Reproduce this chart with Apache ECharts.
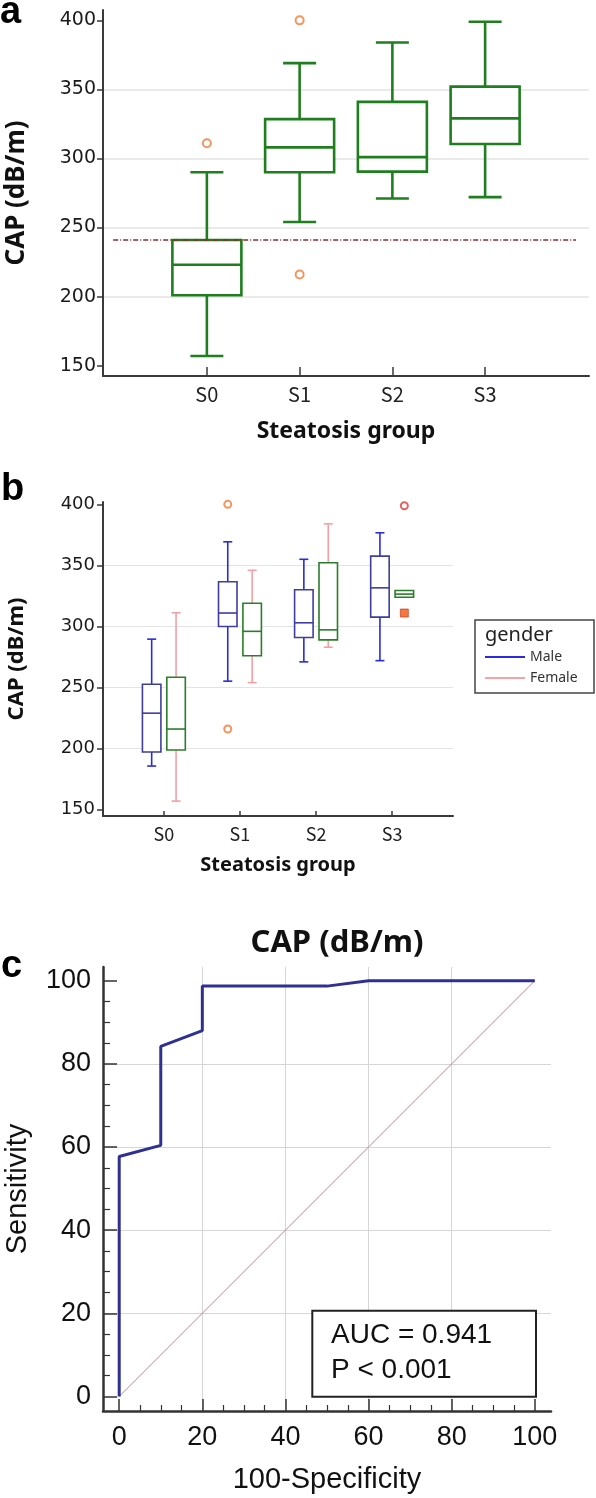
<!DOCTYPE html>
<html><head><meta charset="utf-8">
<script src="https://cdn.jsdelivr.net/npm/echarts@6/dist/echarts.min.js"></script>
<style>html,body{margin:0;padding:0;background:#fff}#c{width:596px;height:1498px}</style>
</head><body><div id="c"></div>
<script>
// ---------- DATA ----------
const groups = ['S0', 'S1', 'S2', 'S3'];
const capTicks = [150, 200, 250, 300, 350, 400];
const rocTicks = [0, 20, 40, 60, 80, 100];
// boxes: [min, Q1, median, Q3, max]
const capBoxA = [
  [157, 201, 223, 241, 290],
  [254, 290, 308, 328.5, 369],
  [271, 290.5, 301, 341, 384],
  [272, 310.5, 329, 352, 399]
];
const outliersA = [[0, 311], [1, 400], [1, 216]];
const cutoffValue = 241;
const cutoffSpan = [-1.01, 3.98];
const maleBoxB = [
  [185.7, 197.2, 229, 252.7, 289.6],
  [255.2, 300, 311, 336.6, 369.3],
  [271, 291, 303, 330, 355],
  [272, 307.6, 331.6, 357.6, 376.7]
];
const femaleBoxB = [
  [157, 198.9, 216, 258.4, 311.2],
  [254, 276, 296, 319, 346],
  [283, 289, 297.2, 352.1, 384],
  [323.9, 323.9, 326.5, 329.4, 329.4]
];
const maleOutliersB = [[1, 400], [1, 216]];
const femaleOutliersB = [[3, 398.8]];
const femaleFarOutB = [[3, 311]];
const rocFpr = [0, 0, 10, 10, 20, 20, 50, 60, 100];
const rocTpr = [0, 57.7, 60.4, 84.2, 88.0, 98.7, 98.7, 100, 100];
const diagFpr = [0, 100];
const diagTpr = [0, 100];

// ---------- HELPERS ----------
function boxRenderer(st) {
  return function (params, api) {
    const x = api.value(0);
    const v = [api.value(1), api.value(2), api.value(3), api.value(4), api.value(5)];
    const pts = v.map(val => api.coord([x, val]));
    const cx = pts[0][0] + st.offset;
    const yMin = pts[0][1], yQ1 = pts[1][1], yMed = pts[2][1], yQ3 = pts[3][1], yMax = pts[4][1];
    const hb = st.boxW / 2, hc = st.capW / 2;
    const wl = { stroke: st.whisker, lineWidth: st.lw, fill: null };
    const bl = { stroke: st.box, lineWidth: st.lw, fill: null };
    const ch = [];
    if (v[4] > v[3]) {
      ch.push({ type: 'line', shape: { x1: cx, y1: yQ3, x2: cx, y2: yMax }, style: wl });
      ch.push({ type: 'line', shape: { x1: cx - hc, y1: yMax, x2: cx + hc, y2: yMax }, style: wl });
    }
    if (v[0] < v[1]) {
      ch.push({ type: 'line', shape: { x1: cx, y1: yQ1, x2: cx, y2: yMin }, style: wl });
      ch.push({ type: 'line', shape: { x1: cx - hc, y1: yMin, x2: cx + hc, y2: yMin }, style: wl });
    }
    ch.push({ type: 'rect', shape: { x: cx - hb, y: yQ3, width: st.boxW, height: yQ1 - yQ3 },
      style: { stroke: st.box, lineWidth: st.lw, fill: '#fff' } });
    ch.push({ type: 'line', shape: { x1: cx - hb, y1: yMed, x2: cx + hb, y2: yMed }, style: bl });
    return { type: 'group', children: ch };
  };
}
const withIndex = arr => arr.map((b, i) => [i].concat(b));
const zip = (a, b) => a.map((v, i) => [v, b[i]]);

const axisDark = '#3a3a3a';
const numFont = 'DejaVu Sans';
const catFont = 'Noto Sans CJK KR';
const titleFont = 'Noto Sans';

const chart = echarts.init(document.getElementById('c'), null, { renderer: 'canvas' });
const option = {
  animation: false,
  backgroundColor: '#fff',
  grid: [
    { left: 103, top: 10, width: 486, height: 366, outerBoundsMode: 'none' },
    { left: 103, top: 502, width: 350, height: 314, outerBoundsMode: 'none' },
    { left: 103, top: 967, width: 448, height: 444, outerBoundsMode: 'none' }
  ],
  xAxis: [
    {
      type: 'value', gridIndex: 0, min: -1.12, max: 4.12,
      axisLine: { show: true, onZero: false, lineStyle: { color: axisDark, width: 2 } },
      axisTick: { show: true, inside: true, length: 9, customValues: [0, 1, 2, 3], lineStyle: { color: axisDark, width: 1.5 } },
      axisLabel: { customValues: [0, 1, 2, 3], formatter: v => groups[Math.round(v)], fontSize: 20, fontFamily: catFont, color: '#222', margin: 8 },
      splitLine: { show: false },
      name: 'Steatosis group', nameLocation: 'middle', nameGap: 44,
      nameTextStyle: { fontWeight: 'bold', fontSize: 23, fontFamily: titleFont, color: '#111' }
    },
    {
      type: 'value', gridIndex: 1, min: -0.8, max: 3.8,
      axisLine: { show: true, onZero: false, lineStyle: { color: axisDark, width: 2 } },
      axisTick: { show: true, inside: true, length: 5, customValues: [0, 1, 2, 3], lineStyle: { color: axisDark, width: 1.5 } },
      axisLabel: { customValues: [0, 1, 2, 3], formatter: v => groups[Math.round(v)], fontSize: 18, fontFamily: catFont, color: '#222', margin: 9 },
      splitLine: { show: false },
      name: 'Steatosis group', nameLocation: 'middle', nameGap: 39,
      nameTextStyle: { fontWeight: 'bold', fontSize: 20, fontFamily: titleFont, color: '#111' }
    },
    {
      type: 'value', gridIndex: 2, min: -3.9, max: 103.9,
      axisLine: { show: true, onZero: false, lineStyle: { color: '#333', width: 2.5 } },
      axisTick: { show: true, inside: true, length: 12, customValues: rocTicks, lineStyle: { color: '#333', width: 1.5 } },
      minorTick: { show: true, splitNumber: 4, length: 6, lineStyle: { color: '#333', width: 1.2 } },
      axisLabel: { customValues: rocTicks, fontSize: 27, fontFamily: 'Liberation Sans', color: '#111', margin: 13 },
      splitLine: { show: true, showMinLine: false, showMaxLine: false, lineStyle: { color: '#d6d6d6', width: 1 } },
      name: '100-Specificity', nameLocation: 'middle', nameGap: 54,
      nameTextStyle: { fontSize: 29, fontFamily: 'Liberation Sans', color: '#111' }
    }
  ],
  yAxis: [
    {
      type: 'value', gridIndex: 0, min: 142.5, max: 407.5,
      axisLine: { show: true, onZero: false, lineStyle: { color: axisDark, width: 2 } },
      axisTick: { show: true, length: 6, customValues: capTicks, lineStyle: { color: axisDark, width: 1.5 } },
      axisLabel: { customValues: capTicks, fontSize: 19, fontFamily: numFont, color: '#1a1a1a', margin: 7 },
      splitLine: { show: true, showMinLine: false, showMaxLine: false, lineStyle: { color: '#e3e3e3', width: 1.5 } },
      name: 'CAP (dB/m)', nameLocation: 'middle', nameGap: 73, nameRotate: 90,
      nameTextStyle: { fontWeight: 'bold', fontSize: 26, fontFamily: titleFont, color: '#111' }
    },
    {
      type: 'value', gridIndex: 1, min: 144.8, max: 401.9,
      axisLine: { show: true, onZero: false, lineStyle: { color: axisDark, width: 2 } },
      axisTick: { show: true, length: 6, customValues: capTicks, lineStyle: { color: axisDark, width: 1.5 } },
      axisLabel: { customValues: capTicks, fontSize: 18, fontFamily: numFont, color: '#1a1a1a', margin: 8 },
      splitLine: { show: true, showMinLine: false, showMaxLine: false, lineStyle: { color: '#e3e3e8', width: 1.2 } },
      name: 'CAP (dB/m)', nameLocation: 'middle', nameGap: 75, nameRotate: 90,
      nameTextStyle: { fontWeight: 'bold', fontSize: 22, fontFamily: titleFont, color: '#111' }
    },
    {
      type: 'value', gridIndex: 2, min: -3.5, max: 103.3,
      axisLine: { show: true, onZero: false, lineStyle: { color: '#333', width: 2.5 } },
      axisTick: { show: true, inside: true, length: 14, customValues: rocTicks, lineStyle: { color: '#333', width: 1.5 } },
      minorTick: { show: true, splitNumber: 4, length: 7, lineStyle: { color: '#333', width: 1.2 } },
      axisLabel: { customValues: rocTicks, fontSize: 27, fontFamily: 'Liberation Sans', color: '#111', margin: 12 },
      splitLine: { show: true, showMinLine: false, showMaxLine: false, lineStyle: { color: '#d6d6d6', width: 1 } },
      name: 'Sensitivity', nameLocation: 'middle', nameGap: 71, nameRotate: 90,
      nameTextStyle: { fontSize: 29, fontFamily: 'Liberation Sans', color: '#111' }
    }
  ],
  legend: {
    data: ['Male', 'Female'], orient: 'vertical', left: 485, top: 650, padding: 0, z: 30,
    icon: 'rect', itemWidth: 40, itemHeight: 2, itemGap: 7,
    textStyle: { fontSize: 14, fontFamily: titleFont, color: '#333' }
  },
  series: [
    {
      type: 'custom', name: 'CAP', xAxisIndex: 0, yAxisIndex: 0,
      renderItem: boxRenderer({ offset: 0, boxW: 69, capW: 33, box: '#1f7f1f', whisker: '#1f7f1f', lw: 2.6 }),
      encode: { x: 0, y: [1, 2, 3, 4, 5] },
      data: withIndex(capBoxA), z: 3
    },
    {
      type: 'scatter', name: 'Outliers', xAxisIndex: 0, yAxisIndex: 0,
      symbol: 'emptyCircle', symbolSize: 8,
      itemStyle: { color: '#f07a35', borderColor: '#f07a35', borderWidth: 1.3 },
      data: outliersA, z: 4
    },
    {
      type: 'line', name: 'Cutoff', xAxisIndex: 0, yAxisIndex: 0, symbol: 'none',
      lineStyle: { color: '#8c2b2b', width: 1.6, type: [5, 2, 1, 2] },
      data: cutoffSpan.map(x => [x, cutoffValue]), z: 5
    },
    {
      type: 'custom', name: 'Male', xAxisIndex: 1, yAxisIndex: 1,
      itemStyle: { color: '#2a2ae0' },
      renderItem: boxRenderer({ offset: -12.2, boxW: 18.5, capW: 9, box: '#3e3ea0', whisker: '#2a2ae0', lw: 1.6 }),
      encode: { x: 0, y: [1, 2, 3, 4, 5] },
      data: withIndex(maleBoxB), z: 3
    },
    {
      type: 'custom', name: 'Female', xAxisIndex: 1, yAxisIndex: 1,
      itemStyle: { color: '#f4a4a6' },
      renderItem: boxRenderer({ offset: 12.2, boxW: 18.5, capW: 9, box: '#2b7d2b', whisker: '#f4a0a4', lw: 1.6 }),
      encode: { x: 0, y: [1, 2, 3, 4, 5] },
      data: withIndex(femaleBoxB), z: 3
    },
    {
      type: 'scatter', name: 'Male outliers', xAxisIndex: 1, yAxisIndex: 1,
      symbol: 'emptyCircle', symbolSize: 7, symbolOffset: [-12.2, 0],
      itemStyle: { color: '#f07a35', borderColor: '#f07a35', borderWidth: 1.3 },
      data: maleOutliersB, z: 4
    },
    {
      type: 'scatter', name: 'Female outliers', xAxisIndex: 1, yAxisIndex: 1,
      symbol: 'emptyCircle', symbolSize: 7, symbolOffset: [12.2, 0],
      itemStyle: { color: '#e03c3c', borderColor: '#e03c3c', borderWidth: 1.3 },
      data: femaleOutliersB, z: 4
    },
    {
      type: 'scatter', name: 'Female far outliers', xAxisIndex: 1, yAxisIndex: 1,
      symbol: 'rect', symbolSize: 8, symbolOffset: [12.2, 0],
      itemStyle: { color: '#f2560f', borderColor: '#c0301a', borderWidth: 0.8 },
      data: femaleFarOutB, z: 4
    },
    {
      type: 'line', name: 'Reference', xAxisIndex: 2, yAxisIndex: 2, symbol: 'none',
      lineStyle: { color: '#c98282', width: 1 },
      data: zip(diagFpr, diagTpr), z: 3
    },
    {
      type: 'line', name: 'ROC', xAxisIndex: 2, yAxisIndex: 2, symbol: 'none',
      lineStyle: { color: '#2e3192', width: 3 },
      data: zip(rocFpr, rocTpr), z: 4
    }
  ],
  graphic: [
    { type: 'text', x: 0, y: 13, z: 10, style: { text: 'a', font: 'bold 38px "Liberation Sans"', fill: '#000', verticalAlign: 'middle' } },
    { type: 'text', x: 1, y: 490, z: 10, style: { text: 'b', font: 'bold 38px "Liberation Sans"', fill: '#000', verticalAlign: 'middle' } },
    { type: 'text', x: 1, y: 967, z: 10, style: { text: 'c', font: 'bold 38px "Liberation Sans"', fill: '#000', verticalAlign: 'middle' } },
    { type: 'rect', z: 1, shape: { x: 475, y: 620, width: 119, height: 73 }, style: { fill: 'none', stroke: '#444', lineWidth: 1.5 } },
    { type: 'text', x: 485, y: 635, z: 11, style: { text: 'gender', font: '20px "Noto Sans"', fill: '#222', verticalAlign: 'middle' } },
    { type: 'text', x: 337, y: 943, z: 10, style: { text: 'CAP (dB/m)', font: 'bold 31px "Noto Sans"', fill: '#111', align: 'center', verticalAlign: 'middle' } },
    { type: 'rect', z: 10, shape: { x: 312.3, y: 1310.7, width: 223.7, height: 86 }, style: { fill: '#fff', stroke: '#222', lineWidth: 2 } },
    { type: 'text', x: 331, y: 1335, z: 11, style: { text: 'AUC = 0.941', font: '28px "Liberation Sans"', fill: '#111', verticalAlign: 'middle' } },
    { type: 'text', x: 331, y: 1370, z: 11, style: { text: 'P < 0.001', font: '28px "Liberation Sans"', fill: '#111', verticalAlign: 'middle' } }
  ]
};
chart.setOption(option);
</script></body></html>
